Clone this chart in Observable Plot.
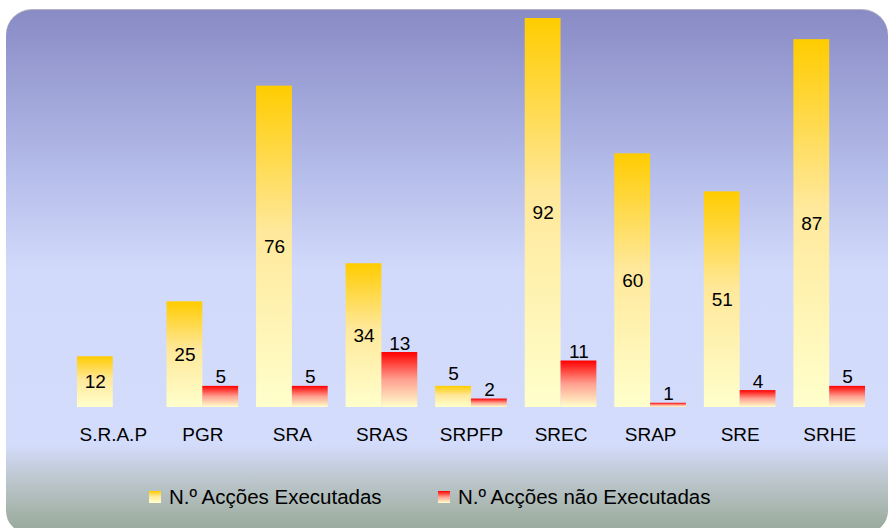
<!DOCTYPE html>
<html>
<head>
<meta charset="utf-8">
<script src="https://cdn.jsdelivr.net/npm/d3@7"></script>
<script src="https://cdn.jsdelivr.net/npm/@observablehq/plot@0.6"></script>
<style>
  html, body { margin: 0; padding: 0; background: #ffffff; }
  #wrap { position: relative; width: 888px; height: 528px; overflow: hidden; font-family: "Liberation Sans", Arial, sans-serif; }
  #panel {
    position: absolute; left: 6px; top: 9px; width: 882px; height: 524px;
    border-radius: 26px 26px 22px 22px;
    border-top: 1px solid #b4b4c0;
    box-sizing: border-box;
    background: linear-gradient(to bottom, #898bc5 0%, #b3bbe9 30%, #d2dafb 50%, #d4dcfc 83%, #bcc6cc 90%, #97a897 100%);
  }
  #chart { position: absolute; left: 0; top: 0; }
  .leg { position: absolute; top: 484px; height: 26px; display: flex; align-items: center; font-size: 20.5px; color: #000; white-space: nowrap; }
  .sw { width: 12px; height: 12px; margin-right: 8px; }
</style>
</head>
<body>
<div id="wrap">
  <div id="panel"></div>
  <div id="chart"></div>
  <div class="leg" style="left:149px"><div class="sw" style="background:linear-gradient(to bottom,#ffcc00,#ffe89a 45%,#ffffcc)"></div><span id="l0"></span></div>
  <div class="leg" style="left:438px"><div class="sw" style="background:linear-gradient(to bottom,#ff0000,#ffa090 50%,#ffffcc)"></div><span id="l1"></span></div>
</div>
<script>
const categories = ["S.R.A.P", "PGR", "SRA", "SRAS", "SRPFP", "SREC", "SRAP", "SRE", "SRHE"];
const executadas = [12, 25, 76, 34, 5, 92, 60, 51, 87];
const naoExecutadas = [null, 5, 5, 13, 2, 11, 1, 4, 5];
const seriesNames = ["N.º Acções Executadas", "N.º Acções não Executadas"];

document.getElementById("l0").textContent = seriesNames[0];
document.getElementById("l1").textContent = seriesNames[1];

const data = [];
categories.forEach((c, i) => {
  if (executadas[i] != null) data.push({cat: c, series: seriesNames[0], value: executadas[i]});
  if (naoExecutadas[i] != null) data.push({cat: c, series: seriesNames[1], value: naoExecutadas[i]});
});
const execData = data.filter(d => d.series === seriesNames[0]);
const nonData = data.filter(d => d.series === seriesNames[1]);
const execInside = execData.filter(d => d.value >= 10);
const execAbove = execData.filter(d => d.value < 10);

const font = "Liberation Sans, Arial, sans-serif";

const chart = Plot.plot({
  width: 888,
  height: 470,
  marginTop: 18,
  marginBottom: 63,
  marginLeft: 68,
  marginRight: 14,
  style: {background: "transparent", fontFamily: font, color: "#000", overflow: "visible"},
  fx: {domain: categories, paddingInner: 0.2, paddingOuter: 0.1, round: false, label: null},
  x: {domain: seriesNames, padding: 0, round: false, axis: null},
  y: {domain: [0, 92], axis: null},
  marks: [
    Plot.barY(execData, {fx: "cat", x: "series", y: "value", fill: "url(#gradExec)", insetLeft: 0, insetRight: 0}),
    Plot.barY(nonData, {fx: "cat", x: "series", y: "value", fill: "url(#gradNon)", insetLeft: 0, insetRight: 0}),
    Plot.text(execInside, {fx: "cat", x: "series", y: d => d.value / 2, text: d => String(d.value), fontSize: 19, fill: "#000"}),
    Plot.text(execAbove, {fx: "cat", x: "series", y: "value", text: d => String(d.value), fontSize: 19, fill: "#000", dy: -12}),
    Plot.text(nonData, {fx: "cat", x: "series", y: "value", text: d => String(d.value), fontSize: 19, fill: "#000", dy: -9}),
    Plot.axisFx({anchor: "bottom", tickSize: 0, tickPadding: 20, fontSize: 19, label: null, fill: "#000"})
  ]
});

const ns = "http://www.w3.org/2000/svg";
const defs = document.createElementNS(ns, "defs");
function grad(id, stops) {
  const g = document.createElementNS(ns, "linearGradient");
  g.setAttribute("id", id);
  g.setAttribute("x1", "0"); g.setAttribute("y1", "0");
  g.setAttribute("x2", "0"); g.setAttribute("y2", "1");
  stops.forEach(([o, c]) => {
    const s = document.createElementNS(ns, "stop");
    s.setAttribute("offset", o);
    s.setAttribute("stop-color", c);
    g.appendChild(s);
  });
  defs.appendChild(g);
}
grad("gradExec", [[0, "#ffcc00"], [0.45, "#ffe89a"], [1, "#ffffcc"]]);
grad("gradNon", [[0, "#ff0000"], [0.5, "#ffa090"], [1, "#ffffcc"]]);
chart.insertBefore(defs, chart.firstChild);

document.getElementById("chart").appendChild(chart);
</script>
</body>
</html>
